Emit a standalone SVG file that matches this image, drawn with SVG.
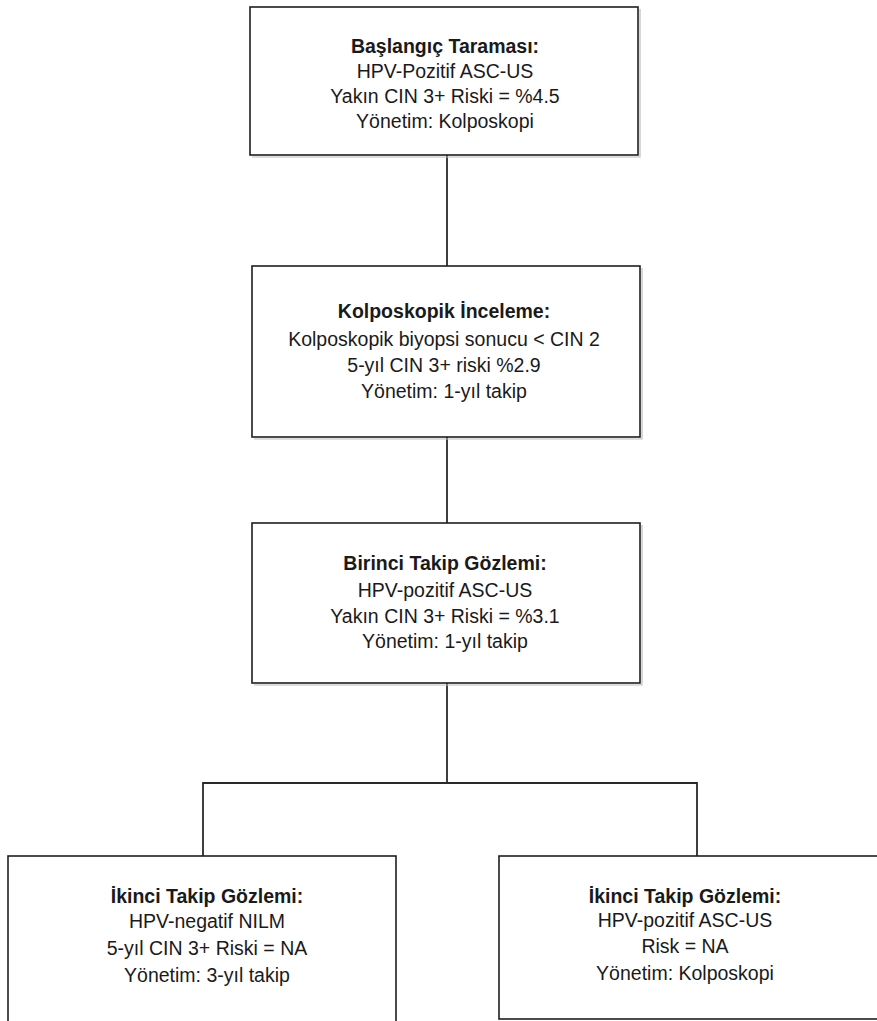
<svg xmlns="http://www.w3.org/2000/svg" width="877" height="1021" viewBox="0 0 877 1021">
  <style>
    .box { fill: #ffffff; stroke: #1e1e1e; stroke-width: 1.6; }
    .shadow { fill: none; stroke: #bdbdbd; stroke-width: 1.2; }
    .link { fill: none; stroke: #2a2a2a; stroke-width: 1.8; }
    text { font-family: "Liberation Sans", Arial, sans-serif; font-size: 19.5px; fill: #1a1a1a; text-anchor: middle; }
    .title { font-weight: bold; }
  </style>
  <rect width="877" height="1021" fill="#ffffff"/>

  <!-- connectors -->
  <g id="connectors">
    <path class="link" d="M447 155 V266"/>
    <path class="link" d="M447 437 V523"/>
    <path class="link" d="M447 683 V783"/>
    <path class="link" d="M203 857 V783 H697 V857"/>
  </g>

  <!-- initial screening -->
  <g id="node-baslangic">
    <path class="shadow" d="M252 157 H640 V9"/>
    <rect class="box" x="250" y="7" width="388" height="148"/>
    <text class="title" x="445" y="53">Başlangıç Taraması:</text>
    <text x="445" y="78">HPV-Pozitif ASC-US</text>
    <text x="445" y="103">Yakın CIN 3+ Riski = %4.5</text>
    <text x="445" y="128">Yönetim: Kolposkopi</text>
  </g>

  <!-- colposcopy -->
  <g id="node-kolposkopik">
    <path class="shadow" d="M254 439 H642 V268"/>
    <rect class="box" x="252" y="266" width="388" height="171"/>
    <text class="title" x="444" y="318">Kolposkopik İnceleme:</text>
    <text x="444" y="346">Kolposkopik biyopsi sonucu &lt; CIN 2</text>
    <text x="444" y="372">5-yıl CIN 3+ riski %2.9</text>
    <text x="444" y="398">Yönetim: 1-yıl takip</text>
  </g>

  <!-- first follow-up -->
  <g id="node-birinci">
    <path class="shadow" d="M254 685 H642 V525"/>
    <rect class="box" x="252" y="523" width="388" height="160"/>
    <text class="title" x="445" y="570">Birinci Takip Gözlemi:</text>
    <text x="445" y="597">HPV-pozitif ASC-US</text>
    <text x="445" y="623">Yakın CIN 3+ Riski = %3.1</text>
    <text x="445" y="648">Yönetim: 1-yıl takip</text>
  </g>

  <!-- second follow-up, HPV negative -->
  <g id="node-ikinci-negatif">
    <rect class="box" x="8" y="856" width="388" height="180"/>
    <text class="title" x="207" y="903">İkinci Takip Gözlemi:</text>
    <text x="207" y="928">HPV-negatif NILM</text>
    <text x="207" y="955">5-yıl CIN 3+ Riski = NA</text>
    <text x="207" y="982">Yönetim: 3-yıl takip</text>
  </g>

  <!-- second follow-up, HPV positive -->
  <g id="node-ikinci-pozitif">
    <rect class="box" x="499" y="856" width="400" height="163"/>
    <text class="title" x="685" y="903">İkinci Takip Gözlemi:</text>
    <text x="685" y="927">HPV-pozitif ASC-US</text>
    <text x="685" y="953">Risk = NA</text>
    <text x="685" y="980">Yönetim: Kolposkopi</text>
  </g>
</svg>
